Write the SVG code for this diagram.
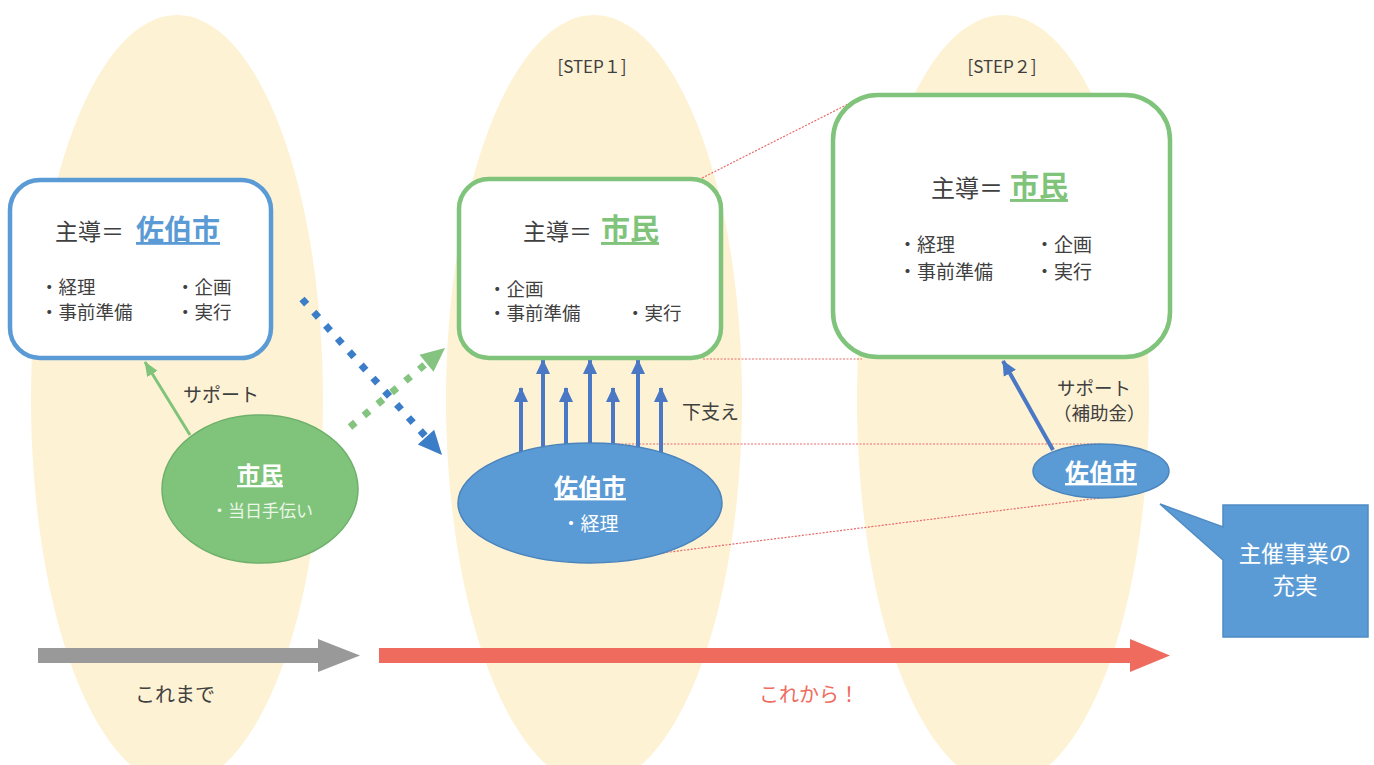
<svg xmlns="http://www.w3.org/2000/svg" width="1374" height="765" viewBox="0 0 1374 765">
<style>
.bg{fill:#FEF2D4}
.t{font-family:"Noto Sans CJK JP","Noto Sans",sans-serif;fill:#404040}
.w{font-family:"Noto Sans CJK JP","Noto Sans",sans-serif;fill:#FFFFFF}
.bx{fill:#FFFFFF;stroke-width:4.5}
.red{stroke:#E86A6A;stroke-width:1.2;stroke-dasharray:2 1.5;fill:none}
.up{stroke:#4A78C4;stroke-width:4;fill:none}
</style>
<defs>
<marker id="ahB" markerUnits="userSpaceOnUse" markerWidth="16" markerHeight="16" viewBox="0 0 16 16" refX="14" refY="8" orient="auto">
<path d="M0,1 L15,8 L0,15 Z" fill="#4A78C4"/>
</marker>
<marker id="ahG" markerUnits="userSpaceOnUse" markerWidth="16" markerHeight="16" viewBox="0 0 16 16" refX="14" refY="8" orient="auto">
<path d="M0,2 L15,8 L0,14 Z" fill="#80C47C"/>
</marker>
</defs>
<rect width="1374" height="765" fill="#FFFFFF"/>
<g id="backgrounds">
<ellipse class="bg" cx="177" cy="400" rx="146" ry="385"/>
<ellipse class="bg" cx="594" cy="400" rx="148" ry="385"/>
<ellipse class="bg" cx="1003" cy="400" rx="146" ry="385"/>
</g>
<g id="step-labels">
<text class="t" x="592" y="73" font-size="17" text-anchor="middle">[STEP１]</text>
<text class="t" x="1002" y="73" font-size="17" text-anchor="middle">[STEP２]</text>
</g>
<g id="connectors">
<line class="red" x1="702" y1="178" x2="862" y2="97"/>
<line class="red" x1="703" y1="359" x2="862" y2="359"/>
<line class="red" x1="590" y1="444" x2="1100" y2="444"/>
<line class="red" x1="590" y1="562" x2="1100" y2="498"/>
<line x1="190" y1="435" x2="145" y2="362" stroke="#80C47C" stroke-width="3" marker-end="url(#ahG)"/>
<line x1="1053" y1="450" x2="1003" y2="361" stroke="#4A78C4" stroke-width="4" marker-end="url(#ahB)"/>
<line class="up" x1="521" y1="470" x2="521" y2="388" marker-end="url(#ahB)"/>
<line class="up" x1="543" y1="470" x2="543" y2="360" marker-end="url(#ahB)"/>
<line class="up" x1="566" y1="470" x2="566" y2="388" marker-end="url(#ahB)"/>
<line class="up" x1="590" y1="470" x2="590" y2="360" marker-end="url(#ahB)"/>
<line class="up" x1="613" y1="470" x2="613" y2="388" marker-end="url(#ahB)"/>
<line class="up" x1="638" y1="470" x2="638" y2="360" marker-end="url(#ahB)"/>
<line class="up" x1="661" y1="470" x2="661" y2="388" marker-end="url(#ahB)"/>
<line x1="302" y1="299" x2="426" y2="437" stroke="#3C7DC8" stroke-width="7" stroke-dasharray="7 10.7"/>
<polygon points="442,455 417.8,444.4 434.2,429.8" fill="#3C7DC8"/>
<line x1="350" y1="427" x2="426.5" y2="363.3" stroke="#84C480" stroke-width="7" stroke-dasharray="7 11"/>
<polygon points="445,348 433.5,371.8 419.5,354.8" fill="#84C480"/>
</g>
<g id="box-saiki">
<rect class="bx" x="10" y="180" width="261" height="178" rx="30" stroke="#5B9BD5"/>
<text class="t" x="55" y="240" font-size="23">主導＝</text>
<text x="136" y="240" font-size="28" font-weight="bold" fill="#5B9BD5" text-decoration="underline" font-family="Noto Sans CJK JP, sans-serif">佐伯市</text>
<text class="t" x="40" y="294" font-size="18.5">・経理</text>
<text class="t" x="176" y="294" font-size="18.5">・企画</text>
<text class="t" x="40" y="319" font-size="18.5">・事前準備</text>
<text class="t" x="176" y="319" font-size="18.5">・実行</text>
</g>
<g id="box-step1">
<rect class="bx" x="459" y="179" width="262" height="179" rx="30" stroke="#80C47C"/>
<text class="t" x="523" y="240" font-size="23">主導＝</text>
<text x="601" y="240" font-size="29" font-weight="bold" fill="#80C47C" text-decoration="underline" font-family="Noto Sans CJK JP, sans-serif">市民</text>
<text class="t" x="488" y="296" font-size="18.5">・企画</text>
<text class="t" x="488" y="320" font-size="18.5">・事前準備</text>
<text class="t" x="626" y="320" font-size="18.5">・実行</text>
</g>
<g id="box-step2">
<rect class="bx" x="833" y="95" width="337" height="262" rx="45" stroke="#80C47C"/>
<text class="t" x="931" y="197" font-size="24">主導＝</text>
<text x="1010" y="197" font-size="29" font-weight="bold" fill="#80C47C" text-decoration="underline" font-family="Noto Sans CJK JP, sans-serif">市民</text>
<text class="t" x="898" y="252" font-size="19">・経理</text>
<text class="t" x="1035" y="252" font-size="19">・企画</text>
<text class="t" x="898" y="279" font-size="19">・事前準備</text>
<text class="t" x="1035" y="279" font-size="19">・実行</text>
</g>
<g id="citizen-ellipse">
<ellipse cx="260" cy="489" rx="98" ry="74" fill="#80C47C" stroke="#6DB06A" stroke-width="1.5"/>
<text class="w" x="260" y="483" font-size="23" font-weight="bold" text-anchor="middle" text-decoration="underline">市民</text>
<text x="262" y="517" font-size="17" text-anchor="middle" fill="#EAF6E8" font-family="Noto Sans CJK JP, sans-serif">・当日手伝い</text>
</g>
<g id="saiki-ellipse-step1">
<ellipse cx="590" cy="503" rx="132" ry="60" fill="#5B9BD5" stroke="#4A84BC" stroke-width="1.5"/>
<text class="w" x="590" y="496" font-size="24" font-weight="bold" text-anchor="middle" text-decoration="underline">佐伯市</text>
<text class="w" x="590" y="531" font-size="19" text-anchor="middle">・経理</text>
</g>
<g id="saiki-ellipse-step2">
<ellipse cx="1101" cy="471" rx="68" ry="27" fill="#5B9BD5" stroke="#4A84BC" stroke-width="1.5"/>
<text class="w" x="1101" y="481" font-size="24" font-weight="bold" text-anchor="middle" text-decoration="underline">佐伯市</text>
</g>
<g id="labels">
<text class="t" x="183" y="402" font-size="19">サポート</text>
<text class="t" x="682" y="419" font-size="19">下支え</text>
<text class="t" x="1057" y="395" font-size="18.5">サポート</text>
<text class="t" x="1053" y="420" font-size="18.5">（補助金）</text>
</g>
<g id="callout">
<path d="M1223,505 H1368 V637 H1223 V560 L1160,504 L1223,527 Z" fill="#5B9BD5" stroke="#4F8CC4" stroke-width="1.5"/>
<text class="w" x="1295" y="562" font-size="22.5" text-anchor="middle">主催事業の</text>
<text class="w" x="1295" y="594" font-size="22.5" text-anchor="middle">充実</text>
</g>
<g id="timeline">
<path d="M38,648 H318 V639 L360,655.5 L318,672 V663 H38 Z" fill="#999999"/>
<path d="M379,648 H1130 V639 L1170,655.5 L1130,672 V663 H379 Z" fill="#EF6B5E"/>
<text class="t" x="175" y="702" font-size="20" text-anchor="middle">これまで</text>
<text x="809" y="702" font-size="20" text-anchor="middle" fill="#EF6B5E" font-family="Noto Sans CJK JP, sans-serif">これから！</text>
</g>
</svg>
